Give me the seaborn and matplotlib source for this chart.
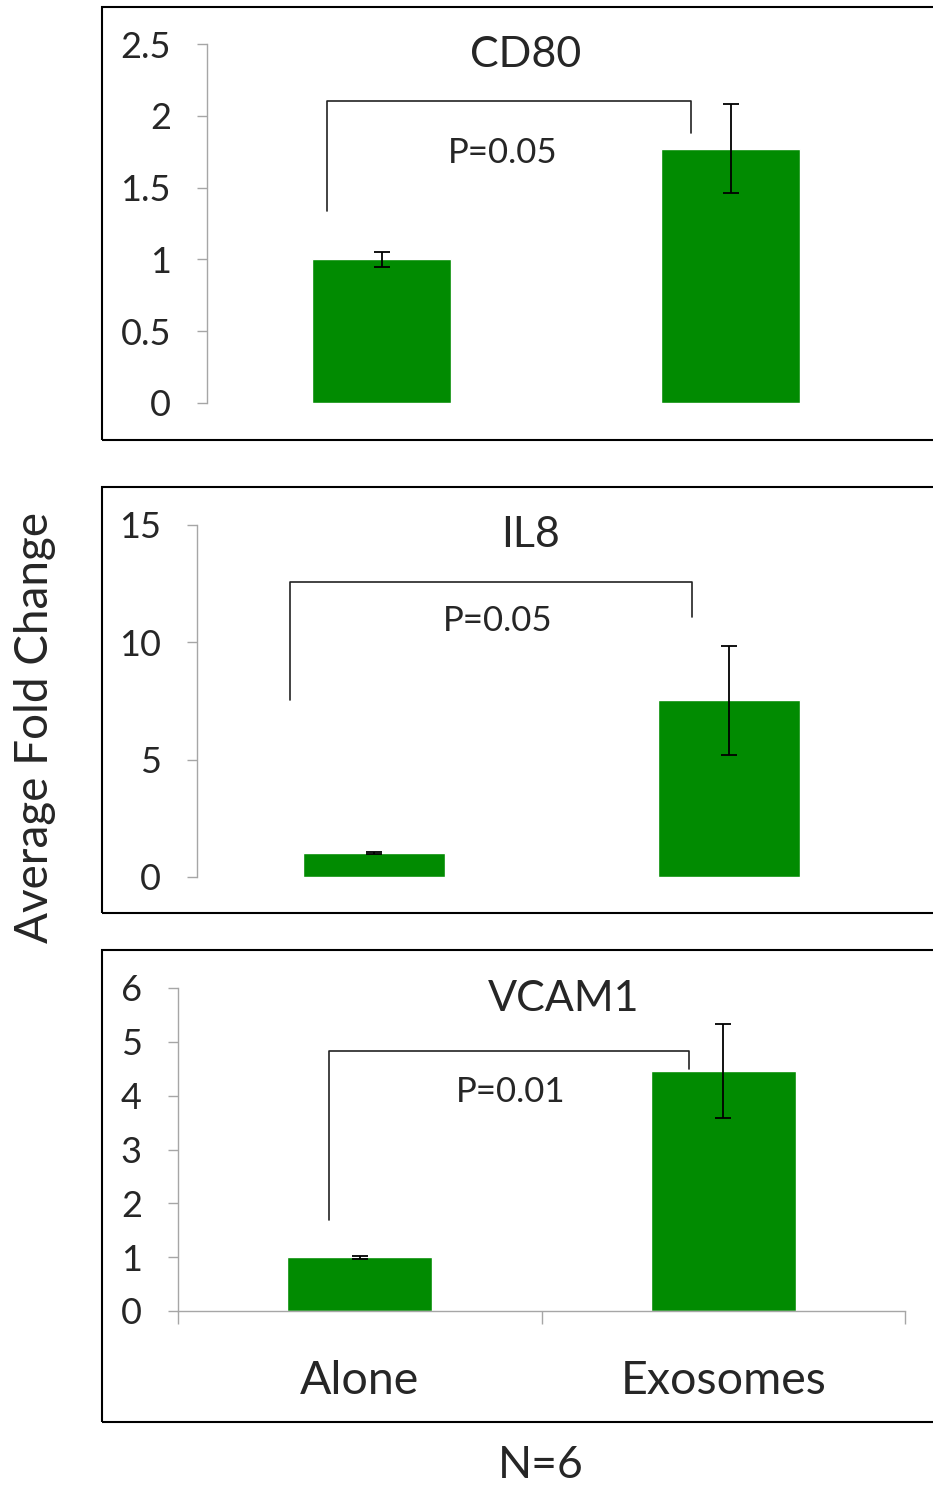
import matplotlib
matplotlib.use("Agg")
import matplotlib.pyplot as plt
import seaborn as sns
from matplotlib.patches import Rectangle

sns.set_style("white")
plt.rcParams['font.family'] = ['Lato', 'DejaVu Sans']

groups = ["Alone", "Exosomes"]
genes = ["CD80", "IL8", "VCAM1"]
means = {"CD80": [1.0, 1.77], "IL8": [1.02, 7.54], "VCAM1": [1.0, 4.46]}
errs = {"CD80": [0.05, 0.31], "IL8": [0.05, 2.32], "VCAM1": [0.03, 0.87]}
pvals = {"CD80": "P=0.05", "IL8": "P=0.05", "VCAM1": "P=0.01"}
ylims = {"CD80": 2.5, "IL8": 15, "VCAM1": 6}
yticks = {"CD80": [0, 0.5, 1, 1.5, 2, 2.5], "IL8": [0, 5, 10, 15],
          "VCAM1": [0, 1, 2, 3, 4, 5, 6]}
ytick_labels = {"CD80": ["0", "0.5", "1", "1.5", "2", "2.5"],
                "IL8": ["0", "5", "10", "15"],
                "VCAM1": ["0", "1", "2", "3", "4", "5", "6"]}
# bracket: x left, x right, left bottom, top, right bottom
brackets = {"CD80": [-0.155, 0.888, 1.34, 2.10, 1.88],
            "IL8": [-0.237, 0.895, 7.54, 12.57, 11.08],
            "VCAM1": [-0.084, 0.906, 1.69, 4.83, 4.5]}
ptext_pos = {"CD80": (0.347, 1.74), "IL8": (0.347, 10.9), "VCAM1": (0.414, 4.06)}
title_pos = {"CD80": (0.456, 0.969), "IL8": (0.47, 0.972), "VCAM1": (0.53, 0.966)}

W, H = 933, 1486
# axes boxes in pixels: left, top, right, bottom
ax_px = {"CD80": (207, 44, 905, 403), "IL8": (197, 525, 906, 877),
         "VCAM1": (178, 988, 905, 1311)}
frame_px = {"CD80": (102, 7, 440), "IL8": (102, 487, 913), "VCAM1": (102, 950, 1422)}

green = "#018b01"
gray = "#a6a6a6"

fig = plt.figure(figsize=(W / 100, H / 100), dpi=100)

for gene in genes:
    fl, ft, fb = frame_px[gene]
    fig.patches.append(Rectangle((fl / W, 1 - fb / H), 1.0, (fb - ft) / H,
                                 transform=fig.transFigure, fill=False,
                                 edgecolor="black", linewidth=1.5))

    l, t, r, b = ax_px[gene]
    ax = fig.add_axes([l / W, 1 - b / H, (r - l) / W, (b - t) / H])
    ax.patch.set_alpha(0)
    sns.barplot(x=groups, y=means[gene], color=green, saturation=1,
                width=0.4, ax=ax)
    ax.errorbar(x=[0, 1], y=means[gene], yerr=errs[gene], fmt="none",
                ecolor="black", elinewidth=1.3, capsize=6, capthick=1.3)
    ax.set_xlim(-0.5, 1.5)
    ax.set_ylim(0, ylims[gene])
    ax.set_yticks(yticks[gene])
    ax.set_yticklabels(ytick_labels[gene])
    ax.tick_params(axis="y", left=True, length=7, width=1, color=gray,
                   pad=19, labelsize=26)
    for s in ["top", "right"]:
        ax.spines[s].set_visible(False)
    ax.spines["left"].set_color(gray)
    ax.spines["left"].set_linewidth(1)
    if gene == "VCAM1":
        ax.spines["bottom"].set_color(gray)
        ax.spines["bottom"].set_linewidth(1)
        ax.set_xticks([-0.5, 0.5, 1.5], minor=True)
        ax.tick_params(axis="x", which="minor", bottom=True, length=9,
                       width=1, color=gray)
        ax.tick_params(axis="x", which="major", bottom=False, length=0,
                       pad=35, labelsize=33.5)
    else:
        ax.spines["bottom"].set_visible(False)
        ax.set_xticks([])
    ax.set_xlabel("")
    ax.set_ylabel("")

    bl, br, y0, y1, y2 = brackets[gene]
    ax.plot([bl, bl, br, br], [y0, y1, y1, y2], color="#222222",
            linewidth=1.2, clip_on=False)
    px, py = ptext_pos[gene]
    ax.text(px, py, pvals[gene], ha="center", va="center", fontsize=25)
    tx, ty = title_pos[gene]
    ax.text(tx, ty, gene, ha="center", va="center", fontsize=31,
            transform=ax.transAxes)

fig.text(35 / W, 1 - 727 / H, "Average Fold Change", rotation=90,
         ha="center", va="center", fontsize=33)
fig.text(541 / W, 1 - 1465 / H, "N=6", ha="center", va="center", fontsize=32)

fig.savefig("out.png", dpi=100)
